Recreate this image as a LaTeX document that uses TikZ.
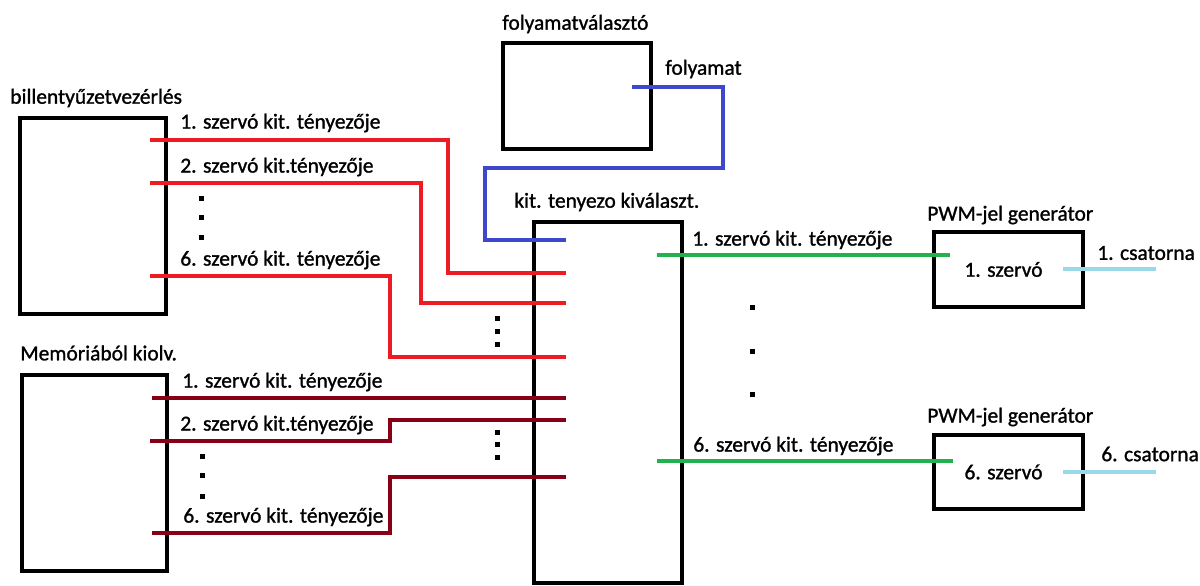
\documentclass[tikz,border=0pt]{standalone}
\usepackage{fontspec}
\setmainfont{Carlito}[BoldFont=Carlito, BoldFeatures={FakeBold=1.2}]
\usepackage{tikz}
\usetikzlibrary{positioning,calc}

\definecolor{pred}{RGB}{237,28,36}
\definecolor{pdarkred}{RGB}{136,0,21}
\definecolor{pblue}{RGB}{63,72,204}
\definecolor{pgreen}{RGB}{34,177,76}
\definecolor{plightblue}{RGB}{153,217,234}

\begin{document}
\begin{tikzpicture}[x=0.02cm, y=-0.02cm,
    box/.style={draw, rectangle, line width=2.3pt, inner sep=0pt, font=\fontsize{12.2}{14}\selectfont\bfseries},
    lbl/.style={anchor=west, inner sep=0pt, font=\fontsize{12.2}{14}\selectfont\bfseries},
    wire/.style={line width=2.2pt}]

    \useasboundingbox (0,0) rectangle (1200,585);

    % Boxes
    \node [box, minimum width=2.92cm, minimum height=3.92cm] (keyb) at (93,216) {};
    \node [box, minimum width=2.9cm, minimum height=3.92cm] (mem) at (94.5,473) {};
    \node [box, minimum width=2.96cm, minimum height=2.12cm] (procsel) at (577,96) {};
    \node [box, minimum width=2.96cm, minimum height=7.22cm] (kitsel) at (608,402.5) {};
    \node [box, minimum width=2.98cm, minimum height=1.5cm] (pwm1) at (1008.5,269.5) {\hspace{-0.2cm}1. szervó};
    \node [box, minimum width=2.98cm, minimum height=1.48cm] (pwm6) at (1008.5,472) {\hspace{-0.2cm}6. szervó};

    % Box titles
    \node [lbl] (keybtitle) at (10,98) {billentyűzetvezérlés};
    \node [lbl] (memtitle) at (20,353) {Memóriából kiolv.};
    \node [lbl] (proctitle) at (502,24) {folyamatválasztó};
    \node [lbl] (kittitle) at (514,202) {kit. tenyezo kiválaszt.};
    \node [lbl] (pwm1title) at (927,215) {PWM-jel generátor};
    \node [lbl] (pwm6title) at (927,417) {PWM-jel generátor};

    % Line ends
    \coordinate (kb1) at (150,140);
    \coordinate (kb2) at (150,183);
    \coordinate (kb6) at (150,276);
    \coordinate (mm1) at (152,398);
    \coordinate (mm2) at (150,441);
    \coordinate (mm6) at (152,533);
    \coordinate (ps) at (632,87);
    \coordinate (kin0) at (566,240);
    \coordinate (kin1) at (566,273);
    \coordinate (kin2) at (566,303);
    \coordinate (kin3) at (566,357);
    \coordinate (kin4) at (566,398);
    \coordinate (kin5) at (566,420);
    \coordinate (kin6) at (566,477);
    \coordinate (kout1) at (657,255);
    \coordinate (kout6) at (657,461);
    \coordinate (pin1) at (950,255);
    \coordinate (pin6) at (953,461);
    \coordinate (pout1) at (1063,269);
    \coordinate (pout6) at (1063,472);
    \coordinate (ch1) at (1156,269);
    \coordinate (ch6) at (1156,472);

    % Keyboard lines
    \draw [wire, pred] (kb1) -- (448,140) |- (kin1);
    \draw [wire, pred] (kb2) -- (421,183) |- (kin2);
    \draw [wire, pred] (kb6) -- (390,276) |- (kin3);
    \node [lbl] (kbl1) at (180,123) {1. szervó kit. tényezője};
    \node [lbl] (kbl2) at (180,167) {2. szervó kit.tényezője};
    \node [lbl] (kbl6) at (180,260) {6. szervó kit. tényezője};

    % Memory lines
    \draw [wire, pdarkred] (mm1) -- (kin4);
    \draw [wire, pdarkred] (mm2) -- (390,441) |- (kin5);
    \draw [wire, pdarkred] (mm6) -- (390,533) |- (kin6);
    \node [lbl] (mml1) at (182,382) {1. szervó kit. tényezője};
    \node [lbl] (mml2) at (180,425) {2. szervó kit.tényezője};
    \node [lbl] (mml6) at (183,517) {6. szervó kit. tényezője};

    % Process select
    \draw [wire, pblue] (ps) -- (723,87) -- (723,168) -- (485,168) |- (kin0);
    \node [lbl] (proclbl) at (665,69) {folyamat};

    % Outputs
    \draw [wire, pgreen] (kout1) -- (pin1);
    \draw [wire, pgreen] (kout6) -- (pin6);
    \node [lbl] (outl1) at (692,240) {1. szervó kit. tényezője};
    \node [lbl] (outl6) at (693,446) {6. szervó kit. tényezője};
    \draw [wire, plightblue] (pout1) -- (ch1);
    \draw [wire, plightblue] (pout6) -- (ch6);
    \node [lbl] (ch1lbl) at (1097,253) {1. csatorna};
    \node [lbl] (ch6lbl) at (1101,454) {6. csatorna};

    % Dots
    \foreach \x/\y in {201/198, 201/217, 201/237, 202/456, 202/475, 202/496,
                       497/318, 497/331, 497/344, 497/432, 497/444, 497/457,
                       752/307, 752/351, 752/394}
        \fill (\x-2.5,\y-2.5) rectangle (\x+2.5,\y+2.5);

\end{tikzpicture}
\end{document}
